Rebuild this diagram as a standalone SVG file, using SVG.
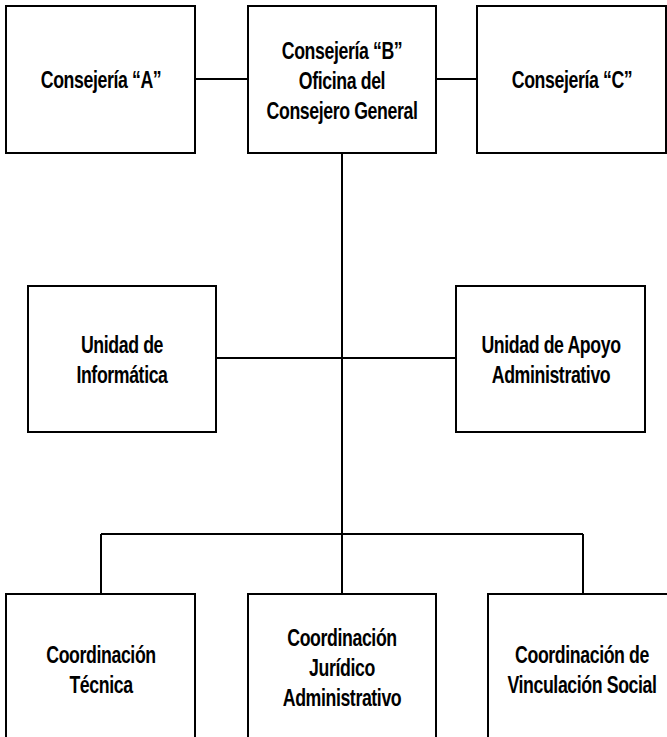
<svg xmlns="http://www.w3.org/2000/svg" width="667" height="737" viewBox="0 0 667 737">
<style>
.box{fill:#fff;stroke:#000;stroke-width:2}
.ln{stroke:#000;stroke-width:2;fill:none}
text{font-family:"Liberation Sans",Arial,sans-serif;font-size:23px;font-weight:bold;fill:#000;text-anchor:middle;letter-spacing:-0.5px}
</style>
<rect width="667" height="737" fill="#fff"/>
<g id="connectors">
<line class="ln" x1="195" y1="79" x2="248" y2="79"/>
<line class="ln" x1="436" y1="79" x2="477" y2="79"/>
<line class="ln" x1="342" y1="153" x2="342" y2="594"/>
<line class="ln" x1="216" y1="358" x2="456" y2="358"/>
<line class="ln" x1="101" y1="534" x2="583" y2="534"/>
<line class="ln" x1="101" y1="534" x2="101" y2="594"/>
<line class="ln" x1="583" y1="534" x2="583" y2="594"/>
</g>
<g id="consejeria-a">
<rect class="box" x="6" y="6" width="189" height="147"/>
<text transform="translate(101,88) scale(0.77,1)">Consejería “A”</text>
</g>
<g id="consejeria-b">
<rect class="box" x="248" y="6" width="188" height="147"/>
<text transform="translate(342,59) scale(0.77,1)">Consejería “B”</text>
<text transform="translate(342,89) scale(0.77,1)">Oficina del</text>
<text transform="translate(342,119) scale(0.77,1)">Consejero General</text>
</g>
<g id="consejeria-c">
<rect class="box" x="477" y="6" width="189" height="147"/>
<text transform="translate(572,88) scale(0.77,1)">Consejería “C”</text>
</g>
<g id="unidad-informatica">
<rect class="box" x="28" y="286" width="188" height="146"/>
<text transform="translate(122,353) scale(0.77,1)">Unidad de</text>
<text transform="translate(122,383) scale(0.77,1)">Informática</text>
</g>
<g id="unidad-apoyo">
<rect class="box" x="456" y="286" width="189" height="146"/>
<text transform="translate(551,353) scale(0.77,1)">Unidad de Apoyo</text>
<text transform="translate(551,383) scale(0.77,1)">Administrativo</text>
</g>
<g id="coord-tecnica">
<rect class="box" x="6" y="594" width="189" height="170"/>
<text transform="translate(101,663) scale(0.77,1)">Coordinación</text>
<text transform="translate(101,693) scale(0.77,1)">Técnica</text>
</g>
<g id="coord-juridico">
<rect class="box" x="248" y="594" width="188" height="170"/>
<text transform="translate(342,646) scale(0.77,1)">Coordinación</text>
<text transform="translate(342,676) scale(0.77,1)">Jurídico</text>
<text transform="translate(342,706) scale(0.77,1)">Administrativo</text>
</g>
<g id="coord-vinculacion">
<rect class="box" x="488" y="594" width="189" height="170"/>
<text transform="translate(582,663) scale(0.77,1)">Coordinación de</text>
<text transform="translate(582,693) scale(0.77,1)">Vinculación Social</text>
</g>
</svg>
